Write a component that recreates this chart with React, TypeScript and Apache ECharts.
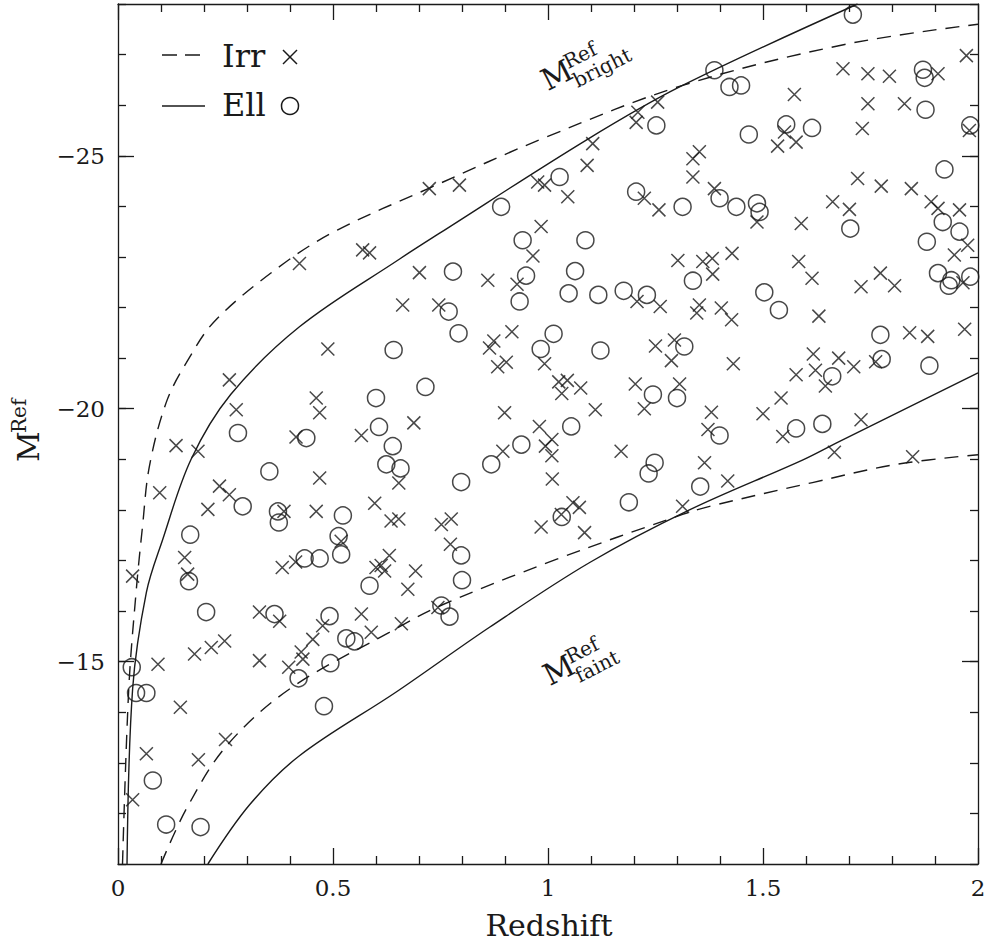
import React, { useEffect, useRef } from 'react';
import * as echarts from 'echarts';

const W = 989;
const H = 944;
const INK = '#1a1a1a';
const FONT = '"DejaVu Serif", serif';

// Axis ranges and tick labels
const X_RANGE = [0, 2];
const Y_RANGE = [-28, -11];
const X_TICK_VALUES = [0, 0.5, 1, 1.5, 2];
const X_TICK_LABELS = ['0', '0.5', '1', '1.5', '2'];
const Y_TICK_VALUES = [-25, -20, -15];
const Y_TICK_LABELS = ['\u221225', '\u221220', '\u221215'];

// Limit curves (redshift, absolute magnitude)
const IRR_BRIGHT_Z = [0.0105, 0.025, 0.042, 0.057, 0.073, 0.112, 0.159, 0.228, 0.387, 0.51, 0.724, 0.996, 1.313, 1.69, 2.0];
const IRR_BRIGHT_M = [-11.0, -14.46, -16.37, -17.67, -18.86, -20.12, -20.91, -21.76, -22.88, -23.53, -24.36, -25.37, -26.39, -27.2, -27.6];
const ELL_BRIGHT_Z = [0.021, 0.034, 0.066, 0.103, 0.17, 0.262, 0.422, 0.655, 0.748, 1.089, 1.306, 1.72];
const ELL_BRIGHT_M = [-11.0, -14.46, -16.37, -17.39, -19.0, -20.28, -21.62, -22.96, -23.47, -25.31, -26.36, -28.0];
const IRR_FAINT_Z = [0.1, 0.159, 0.252, 0.399, 0.631, 0.748, 1.019, 1.313, 1.376, 1.615, 1.81, 2.0];
const IRR_FAINT_M = [-11.0, -12.09, -13.33, -14.46, -15.58, -16.1, -17.02, -17.91, -18.07, -18.54, -18.9, -19.09];
const ELL_FAINT_Z = [0.209, 0.306, 0.422, 0.647, 0.864, 1.097, 1.329, 1.593, 1.67, 2.0];
const ELL_FAINT_M = [-11.0, -12.17, -13.14, -14.4, -15.68, -16.96, -18.0, -18.99, -19.32, -20.71];

// Irregular galaxies (crosses): [redshift, M]
const IRR_POINTS = [
  [1.255, -26.06], [1.209, -25.86], [1.205, -25.66], [1.104, -25.24], [1.091, -24.81], [0.724, -24.35], [0.794, -24.42],
  [0.976, -24.48], [0.992, -24.42], [1.046, -24.19], [1.224, -24.16], [1.258, -23.93], [0.984, -23.6],
  [1.573, -26.21], [1.686, -26.72], [1.744, -26.62], [1.794, -26.57], [1.907, -26.62], [1.973, -26.98], [1.744, -26.03],
  [1.829, -26.03], [1.55, -25.47], [1.534, -25.19], [1.577, -25.27], [1.731, -25.54], [1.98, -25.5], [1.352, -25.08],
  [1.337, -24.94], [1.337, -24.58], [1.387, -24.35], [1.486, -23.69], [1.589, -23.66], [1.662, -24.09], [1.701, -23.94],
  [1.72, -24.55], [1.775, -24.4], [1.845, -24.35], [1.891, -24.09], [1.907, -23.96], [1.957, -23.93],
  [0.569, -23.14], [0.585, -23.08], [0.422, -22.87], [0.488, -21.18], [0.259, -20.57], [0.275, -19.98], [0.461, -20.21],
  [0.469, -19.92], [0.566, -19.47], [0.414, -19.44], [0.135, -19.27], [0.186, -19.16],
  [0.965, -23.02], [1.302, -22.93], [0.701, -22.69], [0.86, -22.54], [0.928, -22.46], [1.207, -22.12], [1.261, -22.02],
  [0.662, -22.05], [0.746, -22.05], [0.916, -21.52], [0.874, -21.34], [0.864, -21.2], [1.25, -21.24], [1.294, -21.36],
  [1.287, -20.95], [0.883, -20.83], [0.903, -20.92], [0.992, -20.89], [1.025, -20.53], [1.045, -20.56], [1.032, -20.3],
  [1.076, -20.41], [1.203, -20.49], [1.224, -20.0], [1.306, -20.49], [1.11, -19.98], [0.899, -19.92], [0.688, -19.72],
  [0.98, -19.65], [1.009, -19.39], [0.994, -19.26], [1.009, -19.07], [0.895, -19.16], [1.17, -19.16],
  [1.976, -23.23], [1.945, -23.04], [1.36, -22.91], [1.382, -22.97], [1.428, -23.07], [1.383, -22.66], [1.583, -22.91],
  [1.614, -22.58], [1.728, -22.41], [1.773, -22.68], [1.806, -22.43], [1.965, -22.49], [1.352, -22.05], [1.346, -21.89],
  [1.403, -21.99], [1.427, -21.76], [1.63, -21.83], [1.841, -21.5], [1.883, -21.43], [1.969, -21.57], [1.431, -20.89],
  [1.617, -21.08], [1.676, -21.0], [1.711, -20.83], [1.762, -20.93], [1.577, -20.67], [1.622, -20.76], [1.645, -20.45],
  [1.542, -20.21], [1.5, -19.9], [1.38, -19.93], [1.372, -19.59], [1.546, -19.45], [1.728, -19.78], [1.666, -19.14],
  [1.848, -19.05], [1.364, -18.93],
  [0.469, -18.63], [0.653, -18.53], [0.097, -18.34], [0.236, -18.47], [0.259, -18.3], [0.209, -18.01], [0.386, -17.97],
  [0.461, -17.97], [0.597, -18.13], [0.635, -17.78], [0.653, -17.82], [0.519, -17.38], [0.155, -17.06], [0.162, -16.73],
  [0.034, -16.69], [0.382, -16.86], [0.413, -16.97], [0.631, -17.1], [0.6, -16.86], [0.612, -16.9], [0.62, -16.79],
  [0.329, -15.98], [0.376, -15.8], [0.476, -15.71], [0.566, -15.94], [0.453, -15.44], [0.426, -15.19], [0.43, -15.05],
  [0.589, -15.58], [0.178, -15.15], [0.217, -15.28], [0.248, -15.41], [0.093, -14.95], [0.329, -15.02], [0.397, -14.89],
  [1.01, -18.61], [0.752, -17.71], [0.775, -17.82], [0.773, -17.32], [0.692, -16.79], [0.674, -16.43], [0.984, -17.66],
  [1.031, -17.91], [1.058, -18.14], [1.073, -18.05], [1.085, -17.55], [1.313, -18.07], [0.744, -16.07], [0.659, -15.75],
  [1.418, -18.57],
  [0.145, -14.1], [0.066, -13.18], [0.187, -13.06], [0.25, -13.46], [0.034, -12.27],
];

// Elliptical galaxies (circles): [redshift, M]
const ELL_POINTS = [
  [1.252, -25.6], [1.027, -24.58], [0.891, -23.99], [1.205, -24.29], [1.313, -23.99],
  [1.709, -27.79], [1.387, -26.69], [1.422, -26.36], [1.449, -26.39], [1.872, -26.7], [1.876, -26.54], [1.878, -25.91],
  [1.554, -25.62], [1.614, -25.55], [1.467, -25.42], [1.982, -25.6], [1.399, -24.16], [1.438, -23.99], [1.486, -24.06],
  [1.492, -23.89], [1.703, -23.56], [1.922, -24.73], [1.918, -23.69], [1.957, -23.5],
  [0.641, -21.16], [0.279, -19.52], [0.6, -20.21], [0.607, -19.64], [0.438, -19.42], [0.639, -19.26], [0.624, -18.9],
  [0.352, -18.76],
  [0.941, -23.33], [1.087, -23.33], [0.779, -22.71], [0.949, -22.63], [1.063, -22.72], [1.048, -22.28], [1.117, -22.25],
  [1.176, -22.33], [1.23, -22.25], [0.934, -22.12], [0.769, -21.92], [0.792, -21.49], [1.013, -21.48], [0.983, -21.18],
  [1.122, -21.15], [1.317, -21.23], [0.715, -20.43], [1.244, -20.28], [1.3, -20.21], [1.054, -19.65], [0.938, -19.29],
  [0.868, -18.9], [1.248, -18.93], [1.234, -18.72], [0.657, -18.82],
  [1.881, -23.3], [1.337, -22.53], [1.907, -22.68], [1.938, -22.54], [1.932, -22.43], [1.982, -22.61], [1.503, -22.3],
  [1.537, -21.95], [1.773, -21.46], [1.776, -20.98], [1.887, -20.85], [1.661, -20.64], [1.399, -19.47], [1.577, -19.61],
  [1.638, -19.7],
  [0.29, -18.07], [0.372, -17.97], [0.374, -17.75], [0.523, -17.89], [0.168, -17.51], [0.513, -17.48], [0.519, -17.12],
  [0.165, -16.59], [0.434, -17.04], [0.469, -17.04], [0.585, -16.5], [0.205, -15.98], [0.364, -15.94], [0.492, -15.9],
  [0.531, -15.46], [0.55, -15.4], [0.42, -14.67], [0.494, -14.97], [0.032, -14.89],
  [0.798, -18.55], [0.798, -17.1], [0.8, -16.61], [1.032, -17.86], [1.188, -18.15], [0.752, -16.11], [0.771, -15.89],
  [1.354, -18.46],
  [0.042, -14.38], [0.066, -14.38], [0.081, -12.65], [0.112, -11.78], [0.192, -11.73], [0.479, -14.12],
];

const CROSS = 'path://M0,0L10,10M0,10L10,0';

function pairs(zs: number[], ms: number[]) {
  return zs.map((z, i) => [z, ms[i]]);
}

function xLabel(v: number) {
  const i = X_TICK_VALUES.findIndex((t) => Math.abs(t - v) < 1e-6);
  return i >= 0 ? X_TICK_LABELS[i] : '';
}
function yLabel(v: number) {
  const i = Y_TICK_VALUES.findIndex((t) => Math.abs(t - v) < 1e-6);
  return i >= 0 ? Y_TICK_LABELS[i] : '';
}

const axisLineStyle = { color: INK, width: 1.3 };

function xAxisDef(position: 'bottom' | 'top', labels: boolean) {
  return {
    type: 'value',
    position,
    min: X_RANGE[0],
    max: X_RANGE[1],
    interval: 0.5,
    axisLine: { show: true, onZero: false, lineStyle: axisLineStyle },
    axisTick: { show: true, inside: true, length: 16, lineStyle: axisLineStyle },
    minorTick: { show: true, splitNumber: 5, length: 8, lineStyle: axisLineStyle },
    axisLabel: {
      show: labels,
      margin: 12,
      color: INK,
      fontFamily: FONT,
      fontSize: 23,
      formatter: xLabel,
    },
    splitLine: { show: false },
    minorSplitLine: { show: false },
  };
}

function yMinorDef(position: 'left' | 'right', labels: boolean) {
  return {
    type: 'value',
    position,
    min: Y_RANGE[0],
    max: Y_RANGE[1],
    interval: 1,
    inverse: true,
    axisLine: { show: true, onZero: false, lineStyle: axisLineStyle },
    axisTick: { show: true, inside: true, length: 8, lineStyle: axisLineStyle },
    axisLabel: {
      show: labels,
      margin: 13,
      color: INK,
      fontFamily: FONT,
      fontSize: 23,
      formatter: yLabel,
    },
    splitLine: { show: false },
  };
}

function yMajorDef(position: 'left' | 'right') {
  return {
    type: 'value',
    position,
    min: Y_RANGE[0],
    max: Y_RANGE[1],
    interval: 1,
    inverse: true,
    axisLine: { show: false, onZero: false },
    axisTick: { show: true, inside: true, length: 16, customValues: Y_TICK_VALUES, lineStyle: axisLineStyle },
    axisLabel: { show: false },
    splitLine: { show: false },
  };
}

function txt(text: string, x: number, y: number, fontSize: number, align = 'left', verticalAlign = 'middle') {
  return {
    type: 'text',
    x,
    y,
    silent: true,
    style: { text, fontSize, fontFamily: FONT, fill: INK, align, verticalAlign },
  };
}

function buildOption() {
  const lineBase = {
    type: 'line',
    xAxisIndex: 0,
    yAxisIndex: 0,
    showSymbol: false,
    symbol: 'none',
    smooth: 0.35,
    silent: true,
    z: 2,
  };
  return {
    animation: false,
    backgroundColor: '#ffffff',
    grid: { left: 118, right: 11, top: 4, bottom: 80, containLabel: false, outerBoundsMode: 'none' },
    xAxis: [xAxisDef('bottom', true), xAxisDef('top', false)],
    yAxis: [yMinorDef('left', true), yMajorDef('left'), yMinorDef('right', false), yMajorDef('right')],
    series: [
      { ...lineBase, name: 'Irr bright', data: pairs(IRR_BRIGHT_Z, IRR_BRIGHT_M), lineStyle: { color: INK, width: 1.4, type: [14, 9] } },
      { ...lineBase, name: 'Ell bright', data: pairs(ELL_BRIGHT_Z, ELL_BRIGHT_M), lineStyle: { color: INK, width: 1.4, type: 'solid' } },
      { ...lineBase, name: 'Irr faint', data: pairs(IRR_FAINT_Z, IRR_FAINT_M), lineStyle: { color: INK, width: 1.4, type: [14, 9] } },
      { ...lineBase, name: 'Ell faint', data: pairs(ELL_FAINT_Z, ELL_FAINT_M), lineStyle: { color: INK, width: 1.4, type: 'solid' } },
      {
        type: 'scatter',
        name: 'Irr',
        xAxisIndex: 0,
        yAxisIndex: 0,
        data: IRR_POINTS,
        symbol: CROSS,
        symbolSize: 13,
        silent: true,
        itemStyle: { color: 'rgba(0,0,0,0)', borderColor: INK, borderWidth: 1.5 },
        z: 3,
      },
      {
        type: 'scatter',
        name: 'Ell',
        xAxisIndex: 0,
        yAxisIndex: 0,
        data: ELL_POINTS,
        symbol: 'circle',
        symbolSize: 17,
        silent: true,
        itemStyle: { color: 'rgba(0,0,0,0)', borderColor: INK, borderWidth: 1.5 },
        z: 3,
      },
    ],
    graphic: [
      // legend
      { type: 'line', silent: true, shape: { x1: 162, y1: 55, x2: 200, y2: 55 }, style: { stroke: INK, lineWidth: 1.4, lineDash: [15, 8] } },
      txt('Irr', 222, 55.5, 32),
      { type: 'line', silent: true, shape: { x1: 283, y1: 50, x2: 297, y2: 64 }, style: { stroke: INK, lineWidth: 1.5 } },
      { type: 'line', silent: true, shape: { x1: 283, y1: 64, x2: 297, y2: 50 }, style: { stroke: INK, lineWidth: 1.5 } },
      { type: 'line', silent: true, shape: { x1: 162, y1: 106, x2: 205, y2: 106 }, style: { stroke: INK, lineWidth: 1.4 } },
      txt('Ell', 222, 105, 32),
      { type: 'circle', silent: true, shape: { cx: 290, cy: 106, r: 8.5 }, style: { fill: 'none', stroke: INK, lineWidth: 1.5 } },
      // axis titles
      txt('Redshift', 549, 925, 30, 'center', 'middle'),
      {
        type: 'group',
        x: 43,
        y: 462,
        rotation: Math.PI / 2,
        children: [
          txt('M', 0, 0, 30, 'left', 'bottom'),
          txt('Ref', 29, -14, 20, 'left', 'bottom'),
        ],
      },
      // limit annotations
      {
        type: 'group',
        x: 547,
        y: 90,
        rotation: 0.47,
        children: [
          txt('M', 0, 6, 30, 'left', 'bottom'),
          txt('Ref', 28, -6, 20, 'left', 'bottom'),
          txt('bright', 28, 15, 20, 'left', 'bottom'),
        ],
      },
      {
        type: 'group',
        x: 549,
        y: 685,
        rotation: 0.47,
        children: [
          txt('M', 0, 6, 30, 'left', 'bottom'),
          txt('Ref', 28, -6, 20, 'left', 'bottom'),
          txt('faint', 28, 15, 20, 'left', 'bottom'),
        ],
      },
    ],
  };
}

export default function App() {
  const ref = useRef<HTMLDivElement>(null);
  useEffect(() => {
    if (!ref.current) return;
    const chart = echarts.init(ref.current, null, { renderer: 'svg', width: W, height: H });
    chart.setOption(buildOption() as any);
    return () => chart.dispose();
  }, []);
  return (
    <div
      ref={ref}
      style={{ position: 'fixed', left: 0, top: 0, width: W, height: H, background: '#fff' }}
    />
  );
}
